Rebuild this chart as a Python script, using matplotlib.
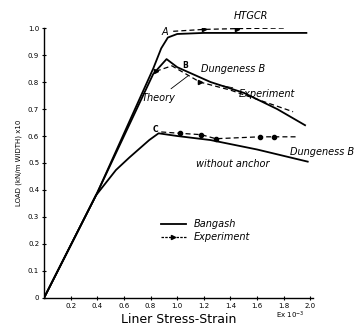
import matplotlib.pyplot as plt
from matplotlib.lines import Line2D

# theory curves (Bangash)
htgcr_x = [0.0, 0.40, 0.82, 0.88, 0.93, 1.00, 1.20, 1.97]
htgcr_y = [0.0, 0.39, 0.85, 0.925, 0.965, 0.978, 0.982, 0.982]

dung_x = [0.0, 0.40, 0.82, 0.92, 1.00, 1.25, 1.50, 1.75, 1.96]
dung_y = [0.0, 0.39, 0.83, 0.885, 0.855, 0.80, 0.76, 0.70, 0.64]

anch_x = [0.0, 0.39, 0.54, 0.64, 0.79, 0.86, 1.00, 1.25, 1.60, 1.98]
anch_y = [0.0, 0.38, 0.474, 0.52, 0.585, 0.61, 0.60, 0.585, 0.55, 0.505]

# experiment curves
htgcr_exp_x = [0.97, 1.20, 1.45, 1.80]
htgcr_exp_y = [0.988, 0.995, 0.998, 1.0]

dung_exp_x = [0.84, 0.96, 1.17, 1.40, 1.87]
dung_exp_y = [0.84, 0.86, 0.80, 0.77, 0.69]

anch_exp_x = [0.88, 1.02, 1.18, 1.29, 1.62, 1.73, 1.90]
anch_exp_y = [0.615, 0.61, 0.605, 0.59, 0.597, 0.597, 0.597]

xticks = [0.2, 0.4, 0.6, 0.8, 1.0, 1.2, 1.4, 1.6, 1.8, 2.0]
yticks = [0.0, 0.1, 0.2, 0.3, 0.4, 0.5, 0.6, 0.7, 0.8, 0.9, 1.0]

fig = plt.figure(figsize=(3.64, 3.34), dpi=100)
ax = fig.add_axes([0.121, 0.108, 0.739, 0.808])

ax.plot(htgcr_x, htgcr_y, color='black', lw=1.3)
ax.plot(dung_x, dung_y, color='black', lw=1.3)
ax.plot(anch_x, anch_y, color='black', lw=1.3)

ax.plot(htgcr_exp_x, htgcr_exp_y, color='black', lw=0.9, ls=(0, (4, 2.5)),
        marker='>', ms=3, markevery=[1, 2])
ax.plot(dung_exp_x, dung_exp_y, color='black', lw=0.9, ls=(0, (4, 2.5)),
        marker='>', ms=3, markevery=[0, 2])
ax.plot(anch_exp_x, anch_exp_y, color='black', lw=0.9, ls=(0, (4, 2.5)),
        marker='o', ms=3, markevery=[1, 2, 3, 4, 5])

hand = dict(fontsize=7, style='italic', color='black')
ax.text(0.91, 0.985, 'A', ha='center', va='center', **hand)
ax.text(1.06, 0.863, 'B', ha='center', va='center', fontsize=5.5, fontweight='bold')
ax.text(0.84, 0.625, 'C', ha='center', va='center', fontsize=5.5, fontweight='bold')
ax.text(1.55, 1.045, 'HTGCR', ha='center', va='center', **hand)
ax.text(1.42, 0.85, 'Dungeness B', ha='center', va='center', **hand)
ax.annotate('Experiment', xy=(1.3, 0.79), xytext=(1.67, 0.755), ha='center',
            va='center', arrowprops=dict(arrowstyle='-', lw=0.6), **hand)
ax.annotate('Theory', xy=(1.1, 0.83), xytext=(0.86, 0.74), ha='center',
            va='center', arrowprops=dict(arrowstyle='-', lw=0.6), **hand)
ax.text(2.09, 0.54, 'Dungeness B', ha='center', va='center', clip_on=False, **hand)
ax.text(1.42, 0.496, 'without anchor', ha='center', va='center', **hand)

handles = [Line2D([], [], color='black', lw=1.3),
           Line2D([], [], color='black', lw=0.9, ls=(0, (2, 1)), marker='>', ms=3)]
ax.legend(handles, ['Bangash', 'Experiment'], loc='center',
          bbox_to_anchor=(0.6, 0.25), frameon=False, handlelength=2.6,
          prop=dict(size=7, style='italic'), labelspacing=0.3)

ax.set_xlim(0, 2.02)
ax.set_ylim(0, 1.0)
ax.set_xticks(xticks)
ax.set_xticklabels([f'{v:.1f}' for v in xticks], fontsize=5)
ax.set_yticks(yticks)
ax.set_yticklabels(['0'] + [f'{v:.1f}' for v in yticks[1:]], fontsize=5)
ax.tick_params(direction='inout', length=3, width=0.8, pad=2)
for s in ['top', 'right']:
    ax.spines[s].set_visible(False)
ax.spines['left'].set_linewidth(1.0)
ax.spines['bottom'].set_linewidth(1.0)

ax.set_xlabel('Liner Stress-Strain', fontsize=9, labelpad=3)
ax.set_ylabel('LOAD (kN/m WIDTH) x10', fontsize=5, labelpad=4)
ax.text(1.85, -0.045, 'Ex 10$^{-3}$', fontsize=5, ha='center', va='top')

fig.savefig('out.png', dpi=100)
